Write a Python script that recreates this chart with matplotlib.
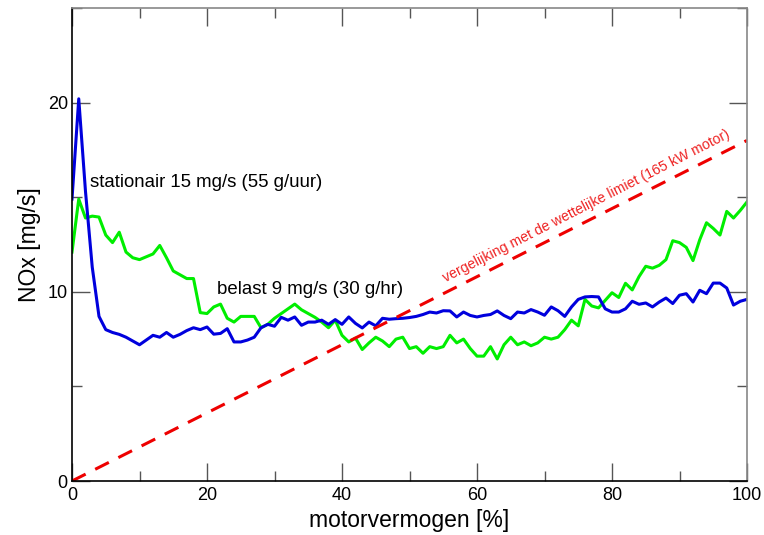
import matplotlib
matplotlib.use('Agg')
import matplotlib.pyplot as plt
import matplotlib as mpl
import numpy as np

plt.rcParams['font.family'] = ['Liberation Sans', 'DejaVu Sans']

# motor power [%], one point per percent
power = np.arange(0, 101)

# NOx while stationary (blue)
nox_stationair = [14.9, 20.2, 15.3, 11.3, 8.7, 8.0, 7.85, 7.75, 7.6, 7.4,
                  7.2, 7.45, 7.7, 7.6, 7.85, 7.6, 7.75, 7.95, 8.1, 8.0,
                  8.14, 7.76, 7.8, 8.05, 7.35, 7.35, 7.45, 7.6, 8.1, 8.28,
                  8.18, 8.65, 8.5, 8.67, 8.23, 8.4, 8.4, 8.5, 8.28, 8.53,
                  8.28, 8.67, 8.33, 8.09, 8.4, 8.2, 8.6, 8.55, 8.58, 8.6,
                  8.64, 8.7, 8.8, 8.93, 8.88, 9.0, 8.99, 8.67, 8.93, 8.75,
                  8.67, 8.75, 8.8, 8.99, 8.75, 8.58, 8.93, 8.88, 9.06, 8.93,
                  8.76, 9.2, 9.0, 8.7, 9.2, 9.6, 9.73, 9.75, 9.73, 9.1,
                  8.93, 8.93, 9.1, 9.5, 9.34, 9.41, 9.2, 9.46, 9.67, 9.38,
                  9.82, 9.9, 9.46, 10.08, 9.9, 10.46, 10.46, 10.2, 9.3, 9.5,
                  9.6]

# NOx under load (green)
nox_belast = [12.1, 14.9, 13.9, 14.0, 13.95, 13.0, 12.6, 13.15, 12.1, 11.8,
              11.7, 11.85, 12.0, 12.45, 11.8, 11.1, 10.9, 10.7, 10.7, 8.9,
              8.85, 9.2, 9.35, 8.6, 8.4, 8.7, 8.7, 8.7, 8.1, 8.28,
              8.6, 8.85, 9.1, 9.35, 9.05, 8.85, 8.65, 8.4, 8.1, 8.5,
              7.7, 7.35, 7.55, 6.95, 7.3, 7.6, 7.4, 7.1, 7.5, 7.6,
              7.0, 7.1, 6.75, 7.1, 7.0, 7.1, 7.7, 7.3, 7.5, 7.0,
              6.6, 6.6, 7.1, 6.45, 7.2, 7.6, 7.2, 7.35, 7.15, 7.3,
              7.6, 7.5, 7.6, 8.0, 8.5, 8.2, 9.6, 9.25, 9.15, 9.55,
              9.95, 9.7, 10.45, 10.1, 10.8, 11.35, 11.25, 11.4, 11.7, 12.7,
              12.6, 12.35, 11.65, 12.75, 13.65, 13.35, 13.0, 14.25, 13.9, 14.3,
              14.75]

# legal limit line (165 kW motor)
limiet_x = [0, 100]
limiet_y = [0, 18]

fig = plt.figure(figsize=(7.64, 5.35), dpi=100)
ax = fig.add_axes((72 / 764, 54 / 535, 675 / 764, 473 / 535))

ax.plot(power, nox_belast, color='#00ee00', linewidth=2.2)
ax.plot(power, nox_stationair, color='#0000dd', linewidth=2.2)
ax.plot(limiet_x, limiet_y, color='#ee0000', linewidth=2.2, linestyle=(0, (5, 3.5)))

ax.set_xlim(0, 100)
ax.set_ylim(0, 25)

# ticks: inward on all sides
ax.xaxis.set_major_locator(mpl.ticker.MultipleLocator(20))
ax.xaxis.set_minor_locator(mpl.ticker.MultipleLocator(10))
ax.set_yticks([0, 10, 20])
ax.set_yticks([5, 15, 25], minor=True)
ax.tick_params(which='both', direction='in', top=True, right=True,
               color='#555555', labelsize=13)
ax.tick_params(axis='x', pad=4)
ax.tick_params(axis='y', pad=3)
ax.tick_params(which='major', length=13, width=1)
ax.tick_params(which='minor', length=7, width=1)

ax.spines['top'].set_color('#888888')
ax.spines['right'].set_color('#888888')
for side in ['top', 'right', 'left', 'bottom']:
    ax.spines[side].set_linewidth(1.2)

ax.set_xlabel('motorvermogen [%]', fontsize=16.5, labelpad=4)
ax.set_ylabel('NOx [mg/s]', fontsize=16.5, labelpad=5)

ax.text(2.7, 15.8, 'stationair 15 mg/s (55 g/uur)', fontsize=13.4, va='center', ha='left')
ax.text(21.5, 10.1, 'belast 9 mg/s (30 g/hr)', fontsize=13.4, va='center', ha='left')
ax.text(55.3, 10.5, 'vergelijking met de wettelijke limiet (165 kW motor)',
        fontsize=10.2, color='#ee2222', rotation=27, rotation_mode='anchor',
        ha='left', va='baseline')

fig.savefig('out.png', dpi=100)
